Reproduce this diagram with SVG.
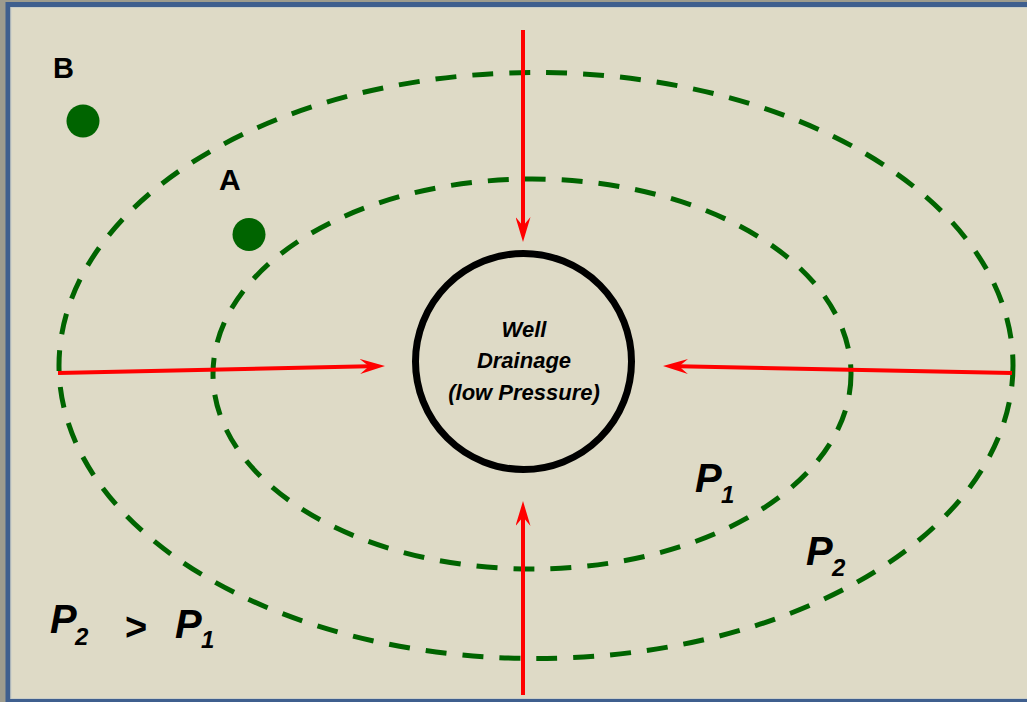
<svg xmlns="http://www.w3.org/2000/svg" width="1027" height="702" viewBox="0 0 1027 702">
  <defs>
    <style>
      .zone { fill: none; stroke: #006400; stroke-width: 5; stroke-dasharray: 21 16; }
      .flow { fill: none; stroke: #ff0000; stroke-width: 4; }
      .dot { fill: #006400; }
      .lbl { font-family: "Liberation Sans", Arial, sans-serif; font-weight: bold; fill: #000; }
      .it { font-style: italic; }
    </style>
    <marker id="arr" viewBox="0 0 25 15" refX="9" refY="7.5" markerWidth="25" markerHeight="15" markerUnits="userSpaceOnUse" orient="auto">
      <path d="M0,0 L25,7.5 L0,15 L9,7.5 Z" fill="#ff0000"/>
    </marker>
  </defs>

  <rect x="0" y="0" width="1027" height="702" fill="#9e9c8e"/>
  <rect x="8" y="4.5" width="1030" height="697" fill="#dedac6" stroke="#3f5f8e" stroke-width="5"/>
  <rect x="11" y="7.5" width="1030" height="691" fill="none" stroke="#c9cdc8" stroke-width="1"/>

  <g id="zones">
    <ellipse id="outer-zone" class="zone" cx="536" cy="365.5" rx="477" ry="293"/>
    <ellipse id="inner-zone" class="zone" cx="532" cy="374" rx="319" ry="195"/>
  </g>

  <g id="connectors">
    <line class="flow" x1="523" y1="30" x2="523" y2="226" marker-end="url(#arr)"/>
    <line class="flow" x1="523" y1="695" x2="523" y2="517" marker-end="url(#arr)"/>
    <line class="flow" x1="58" y1="373" x2="369" y2="366.34" marker-end="url(#arr)"/>
    <line class="flow" x1="1012" y1="373" x2="679" y2="366.32" marker-end="url(#arr)"/>
  </g>

  <g id="well">
    <circle cx="523.5" cy="361.5" r="108" fill="none" stroke="#000" stroke-width="7"/>
    <text class="lbl it" font-size="22" text-anchor="middle" x="524" y="337">Well</text>
    <text class="lbl it" font-size="22" text-anchor="middle" x="524" y="368">Drainage</text>
    <text class="lbl it" font-size="22" text-anchor="middle" x="524" y="400">(low Pressure)</text>
  </g>

  <g id="point-B">
    <circle class="dot" cx="83" cy="121" r="16.5"/>
    <text class="lbl" font-size="29" x="53" y="78">B</text>
  </g>
  <g id="point-A">
    <circle class="dot" cx="249" cy="234.5" r="16.5"/>
    <text class="lbl" font-size="30" x="219" y="190">A</text>
  </g>

  <g id="label-P1">
    <text class="lbl it" font-size="40" x="695" y="492">P</text>
    <text class="lbl it" font-size="24" x="721" y="503">1</text>
  </g>
  <g id="label-P2">
    <text class="lbl it" font-size="40" x="806" y="565">P</text>
    <text class="lbl it" font-size="24" x="832" y="576">2</text>
  </g>
  <g id="legend">
    <text class="lbl it" font-size="40" x="50" y="633">P</text>
    <text class="lbl it" font-size="24" x="75" y="645">2</text>
    <text class="lbl" font-size="38" x="125" y="640">&gt;</text>
    <text class="lbl it" font-size="40" x="175" y="638">P</text>
    <text class="lbl it" font-size="24" x="201" y="648">1</text>
  </g>
</svg>
